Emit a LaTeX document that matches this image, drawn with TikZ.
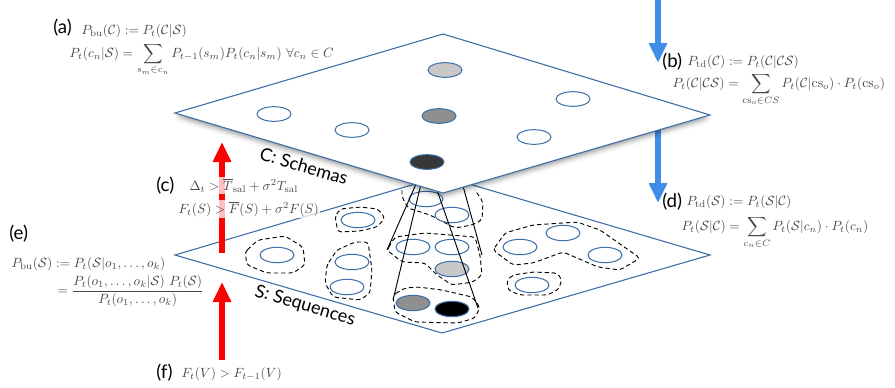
\documentclass[tikz,border=0pt]{standalone}
\usepackage{amsmath,amssymb}
\usepackage{fontspec}
\newfontfamily\labelfont{Lato}
\usetikzlibrary{arrows.meta,shapes.geometric}
\definecolor{planeblue}{RGB}{58,110,165}
\definecolor{flowblue}{RGB}{62,142,232}
\definecolor{flowred}{RGB}{255,0,0}
\definecolor{lightcell}{RGB}{200,200,200}
\definecolor{midcell}{RGB}{143,143,143}
\definecolor{darkcell}{RGB}{55,55,55}
\begin{document}
\begin{tikzpicture}[x=0.75pt,y=-0.75pt,
  plane/.style={draw=planeblue,fill=white,line width=0.8pt,line join=miter},
  cell/.style={ellipse,draw=planeblue,fill=white,line width=0.75pt,minimum width=25.5pt,minimum height=11.5pt,inner sep=0pt},
  group/.style={draw=black,dashed,dash pattern=on 3.2pt off 2.2pt,line width=0.7pt,rounded corners=2.5pt},
  cone/.style={draw=black,line width=0.7pt},
  upflow/.style={draw=flowred,line width=5pt,-{Triangle[width=13pt,length=15pt]}},
  downflow/.style={draw=flowblue,line width=4.5pt,-{Triangle[width=13pt,length=15pt]}},
  lab/.style={anchor=base west,inner sep=0pt,font=\labelfont\fontsize{14}{16}\selectfont},
  formula/.style={anchor=base west,inner sep=1pt,text=black!72,font=\fontsize{10.3}{12}\selectfont},
  veil/.style={fill=white,fill opacity=0.75,text opacity=1},
  planelabel/.style={font=\labelfont\fontsize{13.5}{15}\selectfont,inner sep=0pt}]
\useasboundingbox (0,0) rectangle (895,387);

% ---- lower plane S: sequences ----
\draw[plane] (175,255) -- (442,176) -- (710,255) -- (442,333) -- cycle;

% dashed groupings of sequences
\draw[group] (245,252) -- (258,240) -- (285,236) -- (303,247) -- (305,265) -- (293,273) -- (267,273) -- (247,265) -- cycle;
\draw[group] (335,217) -- (340,209) -- (360,207) -- (378,209) -- (385,218) -- (377,227) -- (360,231) -- (338,232) -- cycle;
\draw[group] (327,265) -- (337,250) -- (355,242) -- (368,242) -- (372,270) -- (370,293) -- (360,300) -- (333,297) -- (325,283) -- cycle;
\draw[group] (402,190) -- (402,197) -- (408,208) -- (430,215) -- (455,228) -- (472,225) -- (482,220) -- (483,202) -- (475,190);
\draw[group] (387,250) -- (395,237) -- (425,233) -- (475,237) -- (480,255) -- (482,275) -- (473,282) -- (452,285) -- (437,275) -- (425,263) -- (402,262) -- cycle;
\draw[group] (393,295) -- (405,288) -- (418,287) -- (442,290) -- (472,297) -- (480,307) -- (475,318) -- (458,323) -- (415,322) -- (395,312) -- cycle;
\draw[group] (493,250) -- (505,233) -- (533,225) -- (577,222) -- (600,230) -- (640,258) -- (620,270) -- (598,267) -- (563,252) -- (533,263) -- (513,265) -- cycle;
\draw[group] (507,280) -- (513,275) -- (533,272) -- (557,273) -- (562,280) -- (558,290) -- (547,295) -- (520,295) -- (508,290) -- cycle;

% sequence cells
\node[cell] (s1) at (277,255) {};
\node[cell] (s2) at (358,220) {};
\node[cell] (s3) at (352,262) {};
\node[cell] (s4) at (347,287) {};
\node[cell] (s5) at (426,199) {};
\node[cell] (s6) at (452,215) {};
\node[cell] (s7) at (413,247) {};
\node[cell] (s8) at (452,247) {};
\node[cell,fill=lightcell] (s9) at (452,269) {};
\node[cell,fill=midcell] (s10) at (413,303) {};
\node[cell,fill=black] (s11) at (452,309) {};
\node[cell] (s12) at (520,247) {};
\node[cell] (s13) at (563,233) {};
\node[cell] (s14) at (605,255) {};
\node[cell] (s15) at (532,285) {};

\node[planelabel,rotate=-16.5] (slabel) at (305,306) {S: Sequences};

% cones linking schemas to the groups below
\coordinate (ka) at (416,184);
\coordinate (kb) at (421,184);
\coordinate (kc) at (437,190);
\coordinate (kd) at (463,186);
\coordinate (ga) at (387,250);
\coordinate (gb) at (393,300);
\coordinate (gc) at (478,308);
\coordinate (gd) at (482,255);
\draw[cone] (ka) -- (ga);
\draw[cone] (kb) -- (gb);
\draw[cone] (kc) -- (gc);
\draw[cone] (kd) -- (gd);

% top-down flow into S (starts under plane C)
\coordinate (bd0) at (658,122);
\coordinate (bd1) at (658,203);
\draw[downflow] (bd0) -- (bd1);

% ---- upper plane C: schemas, with soft shadow ----
\foreach \dy/\op in {8/0.03,6/0.05,4.5/0.07,3/0.09,1.5/0.1}{
  \fill[black,opacity=\op,shift={(0,\dy)}] (175,113) -- (443,34) -- (710,115) -- (443,193) -- cycle;
}
\draw[plane] (175,113) -- (443,34) -- (710,115) -- (443,193) -- cycle;

\node[cell,fill=lightcell,minimum height=11pt] (c1) at (445,70) {};
\node[cell,minimum height=11pt] (c2) at (274,114) {};
\node[cell,minimum height=11pt] (c3) at (352,130) {};
\node[cell,fill=midcell,minimum height=11pt] (c4) at (439,116) {};
\node[cell,minimum height=11pt] (c5) at (573,99) {};
\node[cell,minimum height=11pt] (c6) at (534,137) {};
\node[cell,fill=darkcell,minimum height=11pt] (c7) at (427,162) {};

\node[planelabel,rotate=-16.5] (clabel) at (304,166) {C: Schemas};

% top-down flow into C
\coordinate (bt0) at (658,0);
\coordinate (bt1) at (658,63);
\draw[downflow] (bt0) -- (bt1);

% bottom-up flows
\coordinate (rc0) at (222,253);
\coordinate (rc1) at (222,142);
\draw[upflow] (rc0) -- (rc1);
\coordinate (rf0) at (222,360);
\coordinate (rf1) at (222,282);
\draw[upflow] (rf0) -- (rf1);

% ---- equations ----
\node[lab] (la) at (53,33) {(a)};
\node[formula] (fa1) at (80,34) {$P_{\mathrm{bu}}(\mathcal{C}) := P_t(\mathcal{C}|\mathcal{S})$};
\node[formula] (fa2) at (68,57) {$\displaystyle P_t(c_n|\mathcal{S}) = \sum_{s_m\in c_n} P_{t-1}(s_m)P_t(c_n|s_m)\ \forall c_n\in C$};

\node[lab] (lb) at (662,67) {(b)};
\node[formula] (fb1) at (686,65) {$P_{\mathrm{td}}(\mathcal{C}) := P_t(\mathcal{C}|\mathcal{CS})$};
\node[formula] (fb2) at (671,87) {$\displaystyle P_t(\mathcal{C}|\mathcal{CS}) = \sum_{\mathrm{cs}_o\in CS} P_t(\mathcal{C}|\mathrm{cs}_o)\cdot P_t(\mathrm{cs}_o)$};

\node[lab] (lc) at (156,191) {(c)};
\node[formula,veil] (fc1) at (188,190) {$\Delta_t > \overline{T}_{\mathrm{sal}} + \sigma^2 T_{\mathrm{sal}}$};
\node[formula,veil] (fc2) at (177,213) {$F_t(S) > \overline{F}(S) + \sigma^2 F(S)$};

\node[lab] (ld) at (662,207) {(d)};
\node[formula] (fd1) at (685,205) {$P_{\mathrm{td}}(\mathcal{S}) := P_t(\mathcal{S}|\mathcal{C})$};
\node[formula] (fd2) at (680,230) {$\displaystyle P_t(\mathcal{S}|\mathcal{C}) = \sum_{c_n\in C} P_t(\mathcal{S}|c_n)\cdot P_t(c_n)$};

\node[lab] (le) at (9,239) {(e)};
\node[formula] (fe1) at (10,267) {$P_{\mathrm{bu}}(\mathcal{S}) := P_t(\mathcal{S}|o_1,\ldots,o_k)$};
\node[formula,anchor=west] (fe2) at (56,291) {$= \dfrac{P_t(o_1,\ldots,o_k|\mathcal{S})\ P_t(\mathcal{S})}{P_t(o_1,\ldots,o_k)}$};

\node[lab] (lf) at (156,378) {(f)};
\node[formula] (ff) at (180,377) {$F_t(V) > F_{t-1}(V)$};
\end{tikzpicture}
\end{document}
